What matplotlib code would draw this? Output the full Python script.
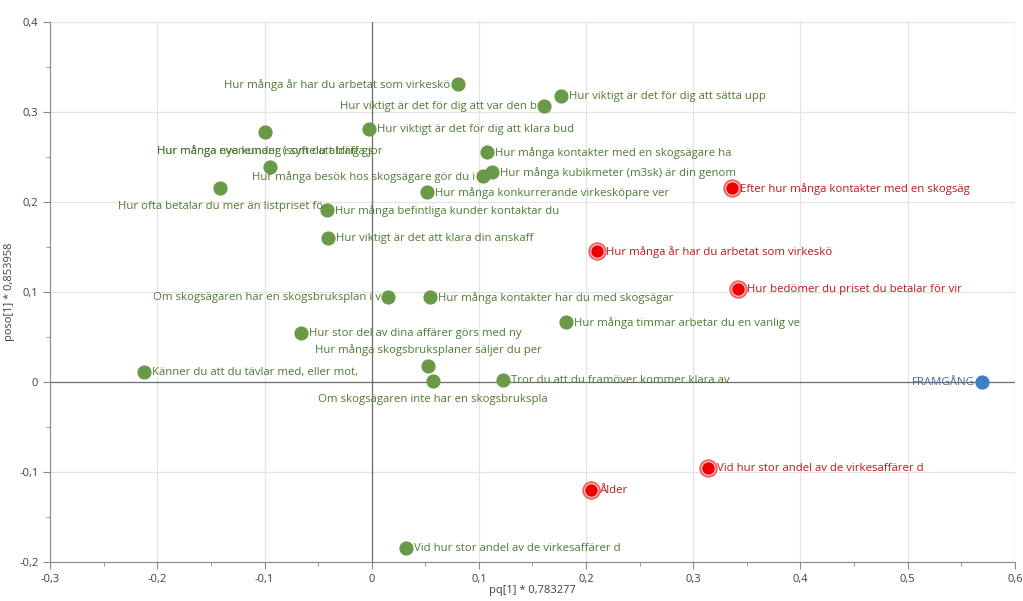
import matplotlib
matplotlib.use('Agg')
import matplotlib.pyplot as plt
from matplotlib.ticker import MultipleLocator, FuncFormatter

plt.rcParams['font.family'] = ['Open Sans', 'DejaVu Sans']

# X-variables (green)
x_labels = [
    'Hur många år har du arbetat som virkeskö',
    'Hur viktigt är det för dig att var den b',
    'Hur viktigt är det för dig att sätta upp',
    'Hur många evenemang i syfte att träffa s',
    'Hur viktigt är det för dig att klara bud',
    'Hur många kontakter med en skogsägare ha',
    'Hur många nya kunder (som du aldrig gjor',
    'Hur många kubikmeter (m3sk) är din genom',
    'Hur många besök hos skogsägare gör du i',
    'Hur många konkurrerande virkesköpare ver',
    'Hur ofta betalar du mer än listpriset fö',
    'Hur många befintliga kunder kontaktar du',
    'Hur viktigt är det att klara din anskaff',
    'Om skogsägaren har en skogsbruksplan i v',
    'Hur många kontakter har du med skogsägar',
    'Hur många timmar arbetar du en vanlig ve',
    'Hur stor del av dina affärer görs med ny',
    'Hur många skogsbruksplaner säljer du per',
    'Om skogsägaren inte har en skogsbrukspla',
    'Känner du att du tävlar med, eller mot,',
    'Tror du att du framöver kommer klara av',
    'Vid hur stor andel av de virkesaffärer d',
]
x_pq = [0.0807, 0.1609, 0.1768, -0.0993, -0.0023, 0.1077, -0.0947, 0.1124,
        0.1040, 0.0518, -0.1413, -0.0415, -0.0406, 0.0154, 0.0546, 0.1814,
        -0.0658, 0.0527, 0.0574, -0.2122, 0.1227, 0.0322]
x_poso = [0.331, 0.3067, 0.3178, 0.2778, 0.2811, 0.2556, 0.2389, 0.2333,
          0.2289, 0.2111, 0.2156, 0.1911, 0.160, 0.0944, 0.0944, 0.0667,
          0.0544, 0.0178, 0.0011, 0.0111, 0.0022, -0.1844]
x_side = ['left', 'left', 'right', 'below', 'right', 'right', 'above', 'right',
          'left', 'right', 'below', 'right', 'right', 'left', 'right', 'right',
          'right', 'above', 'below', 'right', 'right', 'right']

# significant X-variables (red)
sig_labels = [
    'Efter hur många kontakter med en skogsäg',
    'Hur många år har du arbetat som virkeskö',
    'Hur bedömer du priset du betalar för vir',
    'Vid hur stor andel av de virkesaffärer d',
    'Ålder',
]
sig_pq = [0.3363, 0.2104, 0.3420, 0.3140, 0.2048]
sig_poso = [0.2156, 0.1456, 0.1033, -0.0956, -0.1200]

# Y-variable (blue)
y_label = 'FRAMGÅNG'
y_pq = 0.5695
y_poso = 0.0

green = '#6a9a48'
green_txt = '#4f7a32'
red = '#ee0000'
red_txt = '#c01818'
blue = '#3f7fc8'
blue_txt = '#4a6a9a'
fs = 8.2

fig = plt.figure(figsize=(10.23, 6.01), dpi=100)
ax = fig.add_axes([0.049, 0.065, 0.943, 0.898])

ax.set_xlim(-0.3, 0.6)
ax.set_ylim(-0.2, 0.4)

ax.xaxis.set_major_locator(MultipleLocator(0.1))
ax.yaxis.set_major_locator(MultipleLocator(0.1))
ax.xaxis.set_minor_locator(MultipleLocator(0.05))
ax.yaxis.set_minor_locator(MultipleLocator(0.05))


def comma(v, pos):
    if abs(v) < 1e-9:
        return '0'
    return f'{v:.1f}'.replace('.', ',')


ax.xaxis.set_major_formatter(FuncFormatter(comma))
ax.yaxis.set_major_formatter(FuncFormatter(comma))

ax.grid(True, which='major', color='#e4e4e4', linewidth=0.9)
ax.set_axisbelow(True)
ax.axhline(0, color='#707070', linewidth=0.9, zorder=1)
ax.axvline(0, color='#707070', linewidth=0.9, zorder=1)

for s in ['top', 'right']:
    ax.spines[s].set_visible(False)
for s in ['left', 'bottom']:
    ax.spines[s].set_color('#8a8a8a')
ax.tick_params(which='major', length=5, color='#8a8a8a', labelsize=8,
               labelcolor='#404040')
ax.tick_params(which='minor', length=3, color='#8a8a8a')

ax.set_xlabel('pq[1] * 0,783277', fontsize=8, color='#404040', labelpad=0)
ax.set_ylabel('poso[1] * 0,853958', fontsize=8, color='#404040', labelpad=3)

offsets = {
    'right': ((5.5, -0.5), 'left', 'center'),
    'left': ((-5.5, -0.5), 'right', 'center'),
    'below': ((0, -13.5), 'center', 'center'),
    'above': ((0, 11.5), 'center', 'center'),
}

ax.scatter(x_pq, x_poso, s=85, color=green, edgecolor=green, zorder=3)
for lab, px, py, side in zip(x_labels, x_pq, x_poso, x_side):
    off, ha, va = offsets[side]
    ax.annotate(lab, (px, py), xytext=off, textcoords='offset points',
                ha=ha, va=va, fontsize=fs, color=green_txt, zorder=4)

ax.scatter(sig_pq, sig_poso, s=150, color='#f06060', zorder=3)
ax.scatter(sig_pq, sig_poso, s=95, color=red, edgecolor='#ffd0d0',
           linewidth=0.8, zorder=3)
for lab, px, py in zip(sig_labels, sig_pq, sig_poso):
    ax.annotate(lab, (px, py), xytext=(6, -0.5), textcoords='offset points',
                ha='left', va='center', fontsize=fs, color=red_txt, zorder=4)

ax.scatter([y_pq], [y_poso], s=85, color=blue, zorder=3)
ax.annotate(y_label, (y_pq, y_poso), xytext=(-5.5, -0.5),
            textcoords='offset points', ha='right', va='center',
            fontsize=fs, color=blue_txt, zorder=4)

fig.savefig('out.png', dpi=100, facecolor='white')
